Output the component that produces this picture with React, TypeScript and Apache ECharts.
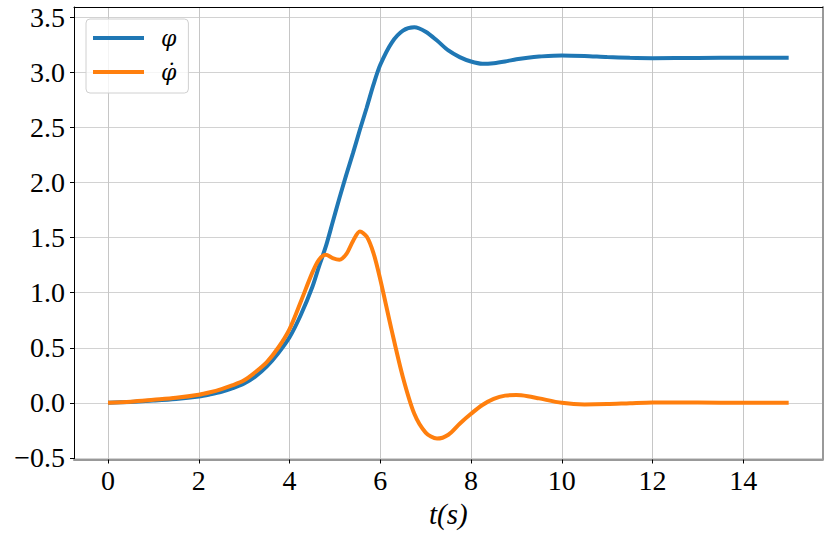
import React, { useEffect, useRef } from "react";
import * as echarts from "echarts";

const tValues = [
  0, 0.5, 1, 1.5, 2, 2.25, 2.5, 2.75, 3, 3.25, 3.5, 3.75, 4, 4.25, 4.5, 4.65, 4.8, 4.95, 5.1, 5.25,
  5.4, 5.55, 5.7, 5.85, 6, 6.25, 6.5, 6.75, 7, 7.25, 7.5, 7.75, 8, 8.25, 8.5, 8.75, 9, 9.25, 9.5, 10,
  10.5, 11, 11.5, 12, 13, 14, 15,
];
const phiValues = [
  0, 0.008, 0.02, 0.035, 0.058, 0.077, 0.1, 0.133, 0.175, 0.24, 0.33, 0.45, 0.595, 0.8, 1.05, 1.24,
  1.42, 1.64, 1.86, 2.07, 2.27, 2.48, 2.68, 2.89, 3.07, 3.27, 3.38, 3.41, 3.37, 3.29, 3.2, 3.14, 3.1,
  3.08, 3.085, 3.1, 3.12, 3.135, 3.145, 3.155, 3.15, 3.14, 3.133, 3.13, 3.132, 3.134, 3.134,
];
const phiDotValues = [
  0, 0.01, 0.027, 0.045, 0.073, 0.096, 0.125, 0.16, 0.205, 0.28, 0.37, 0.5, 0.67, 0.92, 1.18, 1.3,
  1.345, 1.315, 1.3, 1.35, 1.47, 1.555, 1.51, 1.36, 1.12, 0.66, 0.23, -0.1, -0.27, -0.325, -0.29,
  -0.19, -0.1, -0.02, 0.035, 0.065, 0.07, 0.06, 0.04, 0.0, -0.015, -0.012, -0.004, 0.003, 0.002, 0.0,
  0.0,
];
const xTicks = [0, 2, 4, 6, 8, 10, 12, 14];
const yTicks = [-0.5, 0, 0.5, 1, 1.5, 2, 2.5, 3, 3.5];
const seriesNames = ["\u03C6", "\u03C6\u0307"];
const xName = "t(s)";

const FONT = "'Liberation Serif', 'DejaVu Serif', serif";
const LEGEND_FONT = "'DejaVu Serif', serif";

export default function App() {
  const ref = useRef<HTMLDivElement>(null);
  useEffect(() => {
    if (!ref.current) return;
    const chart = echarts.init(ref.current, undefined, { renderer: "svg" });
    const xMin = -0.75;
    const xMax = 15.75;
    const yMin = -0.515;
    const yMax = 3.595;
    chart.setOption({
      animation: false,
      backgroundColor: "#ffffff",
      grid: { left: 74, top: 7, right: 7.3, bottom: 77.5, containLabel: false },
      legend: {
        orient: "vertical",
        left: 86,
        top: 19,
        padding: [7, 12, 9, 7],
        borderColor: "#d0d0d0",
        borderWidth: 1,
        borderRadius: 4,
        backgroundColor: "rgba(255,255,255,0.8)",
        itemWidth: 51,
        itemHeight: 4,
        itemGap: 10,
        icon: "rect",
        textStyle: {
          fontFamily: LEGEND_FONT,
          fontStyle: "italic",
          fontSize: 22,
          lineHeight: 24,
          color: "#000",
          padding: [0, 0, 0, 12],
        },
        data: seriesNames,
      },
      xAxis: [
        {
          type: "value",
          min: xMin,
          max: xMax,
          splitNumber: 8,
          name: xName,
          nameLocation: "middle",
          nameGap: 36,
          nameTextStyle: { fontFamily: FONT, fontStyle: "italic", fontSize: 29, color: "#000" },
          axisLine: { show: true, onZero: false, lineStyle: { color: "#999", width: 2 } },
          axisTick: { show: true, length: 4, customValues: xTicks, lineStyle: { color: "#000" } },
          axisLabel: {
            customValues: xTicks,
            margin: 7,
            fontFamily: FONT,
            fontSize: 28,
            color: "#000",
            formatter: (v: number) => String(v),
          },
          splitLine: { show: true, lineStyle: { color: "#c6c6c6", width: 1 } },
        },
        {
          type: "value",
          position: "top",
          min: xMin,
          max: xMax,
          axisLine: { show: true, onZero: false, lineStyle: { color: "#000", width: 1 } },
          axisTick: { show: false },
          axisLabel: { show: false },
          splitLine: { show: false },
        },
      ],
      yAxis: [
        {
          type: "value",
          min: yMin,
          max: yMax,
          splitNumber: 8,
          axisLine: { show: true, onZero: false, lineStyle: { color: "#000", width: 1 } },
          axisTick: { show: true, length: 4, customValues: yTicks, lineStyle: { color: "#000" } },
          axisLabel: {
            customValues: yTicks,
            margin: 9,
            fontFamily: FONT,
            fontSize: 28,
            color: "#000",
            formatter: (v: number) => (v < 0 ? "\u2212" + Math.abs(v).toFixed(1) : v.toFixed(1)),
          },
          splitLine: { show: true, lineStyle: { color: "#d2d2d2", width: 1 } },
        },
        {
          type: "value",
          position: "right",
          min: yMin,
          max: yMax,
          axisLine: { show: true, onZero: false, lineStyle: { color: "#999", width: 2 } },
          axisTick: { show: false },
          axisLabel: { show: false },
          splitLine: { show: false },
        },
      ],
      series: [
        {
          name: seriesNames[0],
          type: "line",
          xAxisIndex: 0,
          yAxisIndex: 0,
          data: tValues.map((t, i) => [t, phiValues[i]]),
          showSymbol: false,
          symbol: "none",
          smooth: 0.3,
          color: "#1f77b4",
          lineStyle: { color: "#1f77b4", width: 4 },
        },
        {
          name: seriesNames[1],
          type: "line",
          xAxisIndex: 0,
          yAxisIndex: 0,
          data: tValues.map((t, i) => [t, phiDotValues[i]]),
          showSymbol: false,
          symbol: "none",
          smooth: 0.3,
          color: "#ff7f0e",
          lineStyle: { color: "#ff7f0e", width: 4 },
        },
      ],
    });
    return () => chart.dispose();
  }, []);
  return (
    <div
      ref={ref}
      style={{ position: "fixed", left: 0, top: 0, width: 830, height: 537, background: "#fff" }}
    />
  );
}
